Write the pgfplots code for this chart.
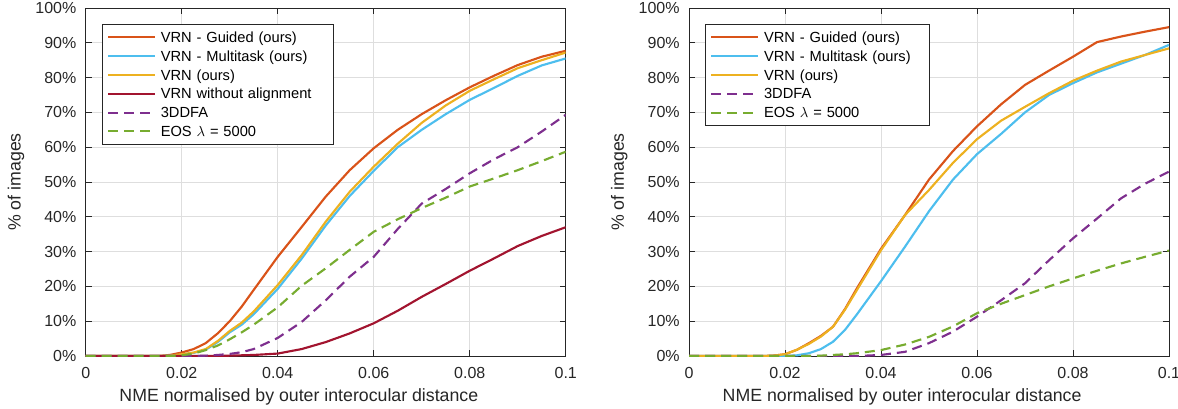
\documentclass[border=0pt]{standalone}
\usepackage{pgfplots}
\pgfplotsset{compat=1.18}
\usepackage{pgfplotstable}
\usepackage{fontspec}
\setmainfont{Liberation Sans}

\definecolor{cGuided}{rgb}{0.850,0.325,0.098}
\definecolor{cMulti}{rgb}{0.301,0.745,0.933}
\definecolor{cVRN}{rgb}{0.929,0.694,0.125}
\definecolor{cNoAlign}{rgb}{0.635,0.078,0.184}
\definecolor{cDDFA}{rgb}{0.494,0.184,0.556}
\definecolor{cEOS}{rgb}{0.466,0.674,0.188}

% x  guided multi vrn noalign ddfa eos  (left panel, % of images)
\pgfplotstableread{
x      g     m     v     n     d     e
0      0     0     0     0     0     0
0.015  0     0     0     0     0     0
0.0175 0.3   0.1   0.1   0     0     0
0.02   1.0   0.4   0.5   0     0     0.2
0.0225 2.0   0.9   1.0   0     0     0.7
0.025  3.7   1.8   2.0   0     0.1   1.7
0.0275 6.5   4.0   4.3   0     0.3   3.0
0.03   10.0  6.8   7.2   0.1   0.6   4.8
0.0325 14.2  9.0   9.6   0.2   1.1   6.8
0.035  19.0  12.0  12.8  0.3   2.0   9.0
0.04   28.5  19.3  20.4  0.7   5.2   14.0
0.045  37.1  28.0  29.0  2.0   9.8   20.2
0.05   45.8  37.5  38.6  4.0   16.0  25.2
0.055  53.4  46.0  47.2  6.5   22.8  30.5
0.06   59.7  53.2  54.4  9.4   28.5  35.7
0.065  65.0  60.0  61.0  13.0  36.5  39.3
0.07   69.5  65.0  67.0  17.0  43.8  42.5
0.075  73.5  69.5  72.0  20.7  48.0  45.5
0.08   77.2  73.6  76.2  24.5  52.5  48.7
0.085  80.5  77.0  79.5  28.0  56.5  51.0
0.09   83.6  80.5  82.7  31.6  60.0  53.4
0.095  86.0  83.5  85.0  34.5  64.5  56.0
0.1    87.7  85.5  87.2  37.0  69.3  58.7
}\leftdata

% right panel
\pgfplotstableread{
x      g     m     v     d     e
0      0     0     0     0     0
0.015  0     0     0     0     0
0.0175 0.1   0     0.1   0     0
0.02   0.5   0     0.5   0     0
0.0225 1.8   0.2   1.8   0     0
0.025  3.7   0.8   3.5   0     0
0.0275 5.8   2.0   5.6   0     0.1
0.03   8.4   4.1   8.4   0     0.3
0.0325 13.5  7.5   13.3  0     0.5
0.035  19.5  12.0  19.0  0     0.8
0.04   30.8  21.5  30.4  0.3   1.7
0.045  40.5  31.4  40.5  1.2   3.3
0.05   50.7  41.6  47.7  3.7   5.5
0.055  58.9  50.7  55.5  7.0   8.5
0.06   66.0  58.0  62.3  11.3  12.3
0.065  72.3  63.8  67.6  16.0  15.0
0.07   77.9  70.0  71.6  20.9  17.5
0.075  82.0  75.0  75.5  27.5  20.0
0.08   86.0  78.4  79.1  33.8  22.3
0.085  90.2  81.5  82.0  39.5  24.5
0.09   91.8  84.0  84.6  45.3  26.6
0.095  93.2  86.5  86.5  49.5  28.5
0.1    94.5  89.4  88.4  53.0  30.3
}\rightdata

\pgfplotsset{
  ced/.style={
    scale only axis, width=360pt, height=261pt,
    xmin=0, xmax=0.1, ymin=0, ymax=100,
    xtick={0,0.02,0.04,0.06,0.08,0.1},
    xticklabels={0,0.02,0.04,0.06,0.08,0.1},
    ytick={0,10,...,100},
    yticklabels={0\%,10\%,20\%,30\%,40\%,50\%,60\%,70\%,80\%,90\%,100\%},
    /pgf/number format/assume math mode=true,
    grid=major, major grid style={black!13, line width=0.6pt},
    axis line style={black!85, line width=0.6pt},
    tick align=inside, major tick length=4.5pt,
    tick style={black!85, line width=0.6pt},
    ticklabel style={font=\fontsize{12}{14}\selectfont, text=black!85},
    yticklabel style={xshift=-3.5pt},
    xticklabel style={yshift=-5pt},
    xlabel={NME normalised by outer interocular distance},
    ylabel={\% of images},
    label style={font=\fontsize{13.3}{15}\selectfont, text=black!85},
    xlabel style={at={(axis description cs:0.444,-0.118)}, anchor=center},
    ylabel style={at={(axis description cs:-0.145,0.5)}, anchor=center},
    legend style={at={(0.033,0.954)}, anchor=north west, draw=black!85,
      fill=white, line width=0.6pt, inner xsep=3.75pt, inner ysep=4.5pt,
      row sep=3.6pt, column sep=3.75pt,
      font=\fontsize{11}{13}\selectfont,
      nodes={inner sep=0pt, text height=9pt, text depth=1.5pt}},
    legend cell align=left,
    legend image code/.code={\draw[#1] (0pt,0pt) -- (35pt,0pt);},
  },
  sol/.style={line width=1.6pt, line join=round},
  dsh/.style={line width=1.6pt, line join=round, dash pattern=on 7.5pt off 4.5pt},
}

\begin{document}
\begin{tikzpicture}
\useasboundingbox (0,0) rectangle (883.5pt,306pt);
\begin{axis}[ced, at={(64.3pt,39pt)}, anchor=south west,
  legend style={nodes={text width=126pt}}]
\addplot[sol, cGuided] table[x=x, y=g] {\leftdata};
\addlegendentry{VRN - Guided (ours)}
\addplot[sol, cMulti] table[x=x, y=m] {\leftdata};
\addlegendentry{VRN - Multitask (ours)}
\addplot[sol, cVRN] table[x=x, y=v] {\leftdata};
\addlegendentry{VRN (ours)}
\addplot[sol, cNoAlign] table[x=x, y=n] {\leftdata};
\addlegendentry{VRN without alignment}
\addplot[dsh, cDDFA] table[x=x, y=d] {\leftdata};
\addlegendentry{3DDFA}
\addplot[dsh, cEOS] table[x=x, y=e] {\leftdata};
\addlegendentry{EOS $\lambda$ = 5000}
\end{axis}
\begin{axis}[ced, at={(516.75pt,39pt)}, anchor=south west,
  legend style={nodes={text width=120pt}}]
\addplot[sol, cGuided] table[x=x, y=g] {\rightdata};
\addlegendentry{VRN - Guided (ours)}
\addplot[sol, cMulti] table[x=x, y=m] {\rightdata};
\addlegendentry{VRN - Multitask (ours)}
\addplot[sol, cVRN] table[x=x, y=v] {\rightdata};
\addlegendentry{VRN (ours)}
\addplot[dsh, cDDFA] table[x=x, y=d] {\rightdata};
\addlegendentry{3DDFA}
\addplot[dsh, cEOS] table[x=x, y=e] {\rightdata};
\addlegendentry{EOS $\lambda$ = 5000}
\end{axis}
\end{tikzpicture}
\end{document}
